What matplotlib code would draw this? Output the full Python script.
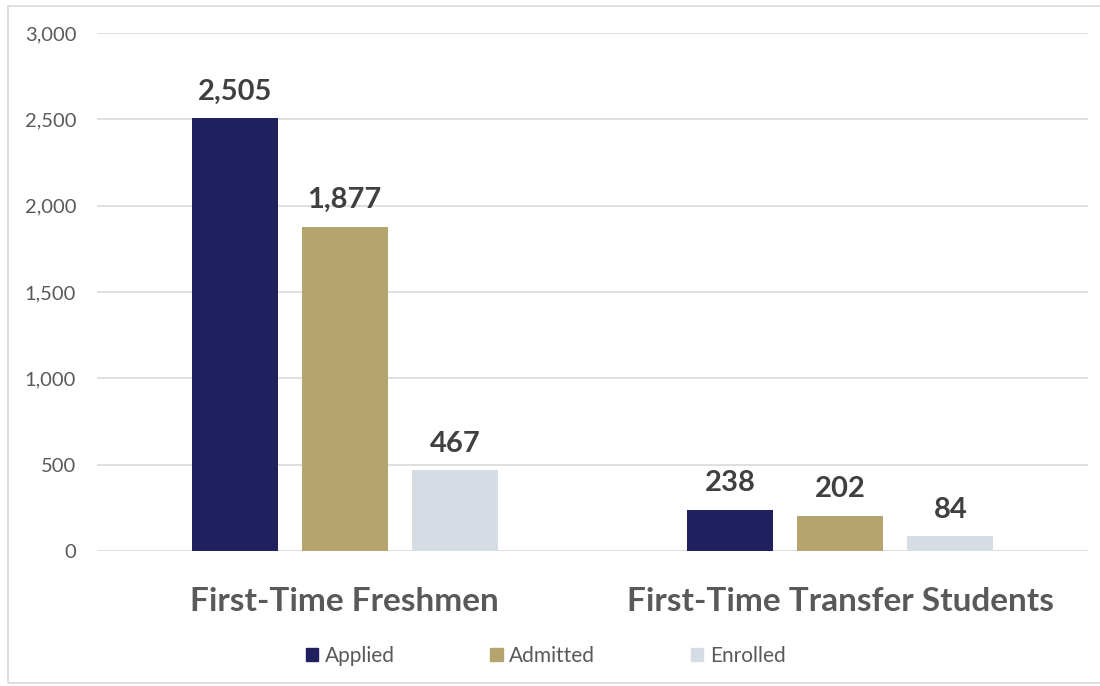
import matplotlib.pyplot as plt
import numpy as np
from matplotlib.patches import Rectangle, Patch

plt.rcParams["font.family"] = ["Lato", "DejaVu Sans"]

# data
categories = ["First-Time Freshmen", "First-Time Transfer Students"]
series = ["Applied", "Admitted", "Enrolled"]
applied = [2505, 238]
admitted = [1877, 202]
enrolled = [467, 84]
colors = ["#20205E", "#B5A46E", "#D6DCE4"]
yticks = [0, 500, 1000, 1500, 2000, 2500, 3000]

fig = plt.figure(figsize=(11, 6.86), dpi=100)
ax = fig.add_axes([97 / 1100, 1 - 551 / 686, 991 / 1100, 518 / 686])

# outer border
fig.patches.append(Rectangle((8 / 1100, 0.004), 1.2, 1 - 6 / 686 - 0.004,
                             transform=fig.transFigure, fill=False,
                             edgecolor="#D9D9D9", linewidth=1.2))

x = np.arange(len(categories))
width = 0.174
step = 0.222
for i, (vals, c) in enumerate(zip([applied, admitted, enrolled], colors)):
    pos = x + (i - 1) * step
    ax.bar(pos, vals, width, color=c, zorder=3)
    for p, v in zip(pos, vals):
        ax.text(p, v + 80, f"{v:,}", ha="center", va="bottom",
                fontsize=21, fontweight="bold", color="#404040")

ax.set_xlim(-0.5, 1.5)
ax.set_ylim(0, 3000)
ax.set_yticks(yticks)
ax.set_yticklabels([f"{t:,}" for t in yticks], fontsize=14.5, color="#595959")
ax.yaxis.grid(True, color="#D9D9D9", linewidth=1.2, zorder=0)
ax.tick_params(axis="y", length=0, pad=15)
ax.tick_params(axis="x", length=0, pad=26)
ax.set_xticks(x)
ax.set_xticklabels(categories, fontsize=24, fontweight="bold", color="#595959")
for s in ax.spines.values():
    s.set_visible(False)

handles = [Patch(color=c, label=s) for s, c in zip(series, colors)]
fig.legend(handles=handles, loc="center", bbox_to_anchor=(0.496, 1 - 656 / 686),
           ncol=3, frameon=False, fontsize=15, handlelength=0.6,
           handleheight=0.6, handletextpad=0.3, columnspacing=4.6,
           labelcolor="#595959")

fig.savefig("out.png", dpi=100)
